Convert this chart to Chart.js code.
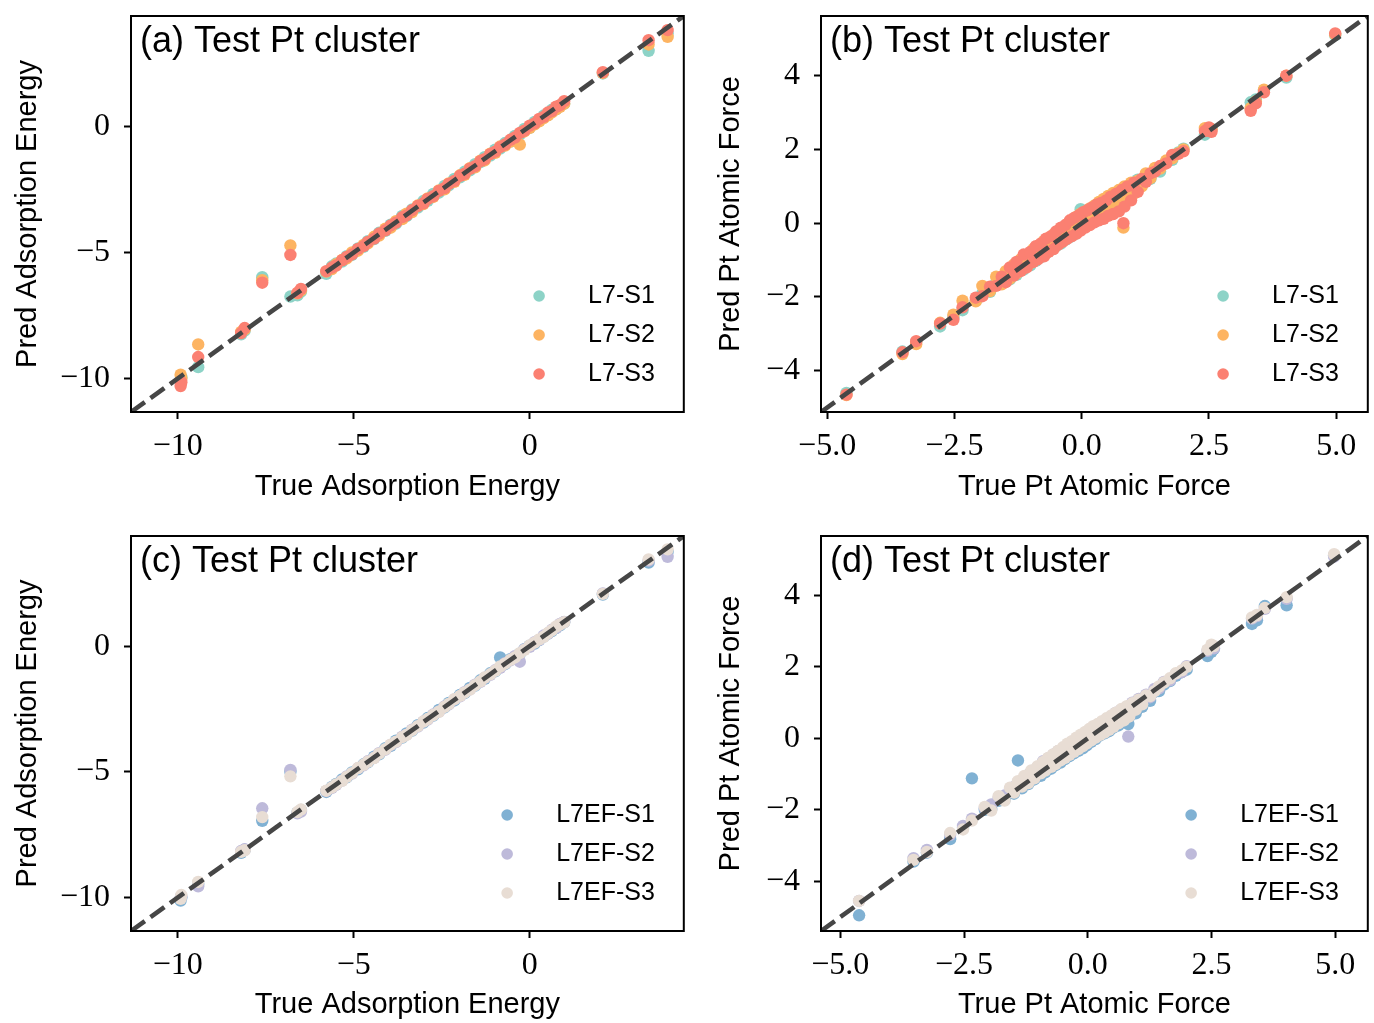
<!DOCTYPE html>
<html>
<head>
<meta charset="utf-8">
<script src="https://cdn.jsdelivr.net/npm/chart.js@4.4.0/dist/chart.umd.min.js"></script>
<style>
  html, body { margin: 0; padding: 0; background: #fff; }
  #wrap { position: relative; width: 1374px; height: 1023px; overflow: hidden; }
  #wrap canvas { position: absolute; }
</style>
</head>
<body>
<div id="wrap">
  <canvas id="panelA"></canvas>
  <canvas id="panelB"></canvas>
  <canvas id="panelC"></canvas>
  <canvas id="panelD"></canvas>
</div>
<script>
// ---- data ----
const energyTicks = [-10, -5, 0];
const forceXTicks = [-5, -2.5, 0, 2.5, 5];
const forceYTicks = [-4, -2, 0, 2, 4];
const energyRange = [-11.33, 4.38];
const forceRangeTop = [-5.12, 5.62];
const forceRangeBottom = [-5.39, 5.66];

const namesL7 = ['L7-S1', 'L7-S2', 'L7-S3'];
const namesL7EF = ['L7EF-S1', 'L7EF-S2', 'L7EF-S3'];

const energyTrue = [
  -9.92, -9.9, -9.42, -8.2, -8.1, -7.6, -6.8, -6.6, -6.5, -5.78,
  -5.62, -5.5, -5.33, -5.2, -5.05, -4.88, -4.72, -4.6, -4.42, -4.28,
  -4.1, -3.95, -3.8, -3.62, -3.5, -3.34, -3.18, -3.02, -2.9, -2.74,
  -2.58, -2.42, -2.3, -2.14, -1.98, -1.85, -1.7, -1.55, -1.4, -1.28,
  -1.12, -0.98, -0.84, -0.7, -0.55, -0.42, -0.28, -0.15, 0.0, 0.14,
  0.27, 0.4, 0.52, 0.63, 0.75, 0.86, 0.98, 2.08, 3.38, 3.92,
];
const energyL7S1 = [
  -10.05, -9.95, -9.55, -8.25, -8.1, -5.98, -6.75, -6.7, -6.55, -5.85,
  -5.55, -5.44, -5.36, -5.15, -5.1, -4.84, -4.78, -4.55, -4.47, -4.22,
  -4.14, -3.9, -3.86, -3.55, -3.56, -3.29, -3.22, -2.96, -2.95, -2.68,
  -2.63, -2.36, -2.34, -2.08, -2.02, -1.8, -1.74, -1.5, -1.42, -1.22,
  -1.16, -0.92, -0.88, -0.66, -0.6, -0.38, -0.33, -0.1, -0.06, 0.18,
  0.22, 0.43, 0.45, 0.66, 0.68, 0.83, 0.9, 2.1, 3.0, 3.7,
];
const energyL7S2 = [
  -9.85, -10.0, -8.65, -8.15, -8.05, -6.1, -4.72, -6.62, -6.5, -5.76,
  -5.66, -5.47, -5.3, -5.24, -5.0, -4.93, -4.7, -4.64, -4.38, -4.33,
  -4.06, -4.02, -3.76, -3.68, -3.46, -3.4, -3.14, -3.08, -2.86, -2.8,
  -2.54, -2.5, -2.26, -2.2, -1.94, -1.92, -1.66, -1.62, -1.36, -1.35,
  -1.08, -1.05, -0.8, -0.76, -0.6, -0.47, -0.72, -0.2, -0.06, 0.08,
  0.2, 0.33, 0.44, 0.56, 0.68, 0.78, 0.9, 2.12, 3.25, 3.55,
];
const energyL7S3 = [
  -10.3, -10.15, -9.15, -8.2, -8.0, -6.2, -5.1, -6.6, -6.45, -5.74,
  -5.6, -5.52, -5.31, -5.18, -5.08, -4.86, -4.75, -4.58, -4.45, -4.25,
  -4.12, -3.93, -3.82, -3.6, -3.53, -3.32, -3.16, -3.05, -2.88, -2.77,
  -2.56, -2.45, -2.28, -2.16, -1.96, -1.88, -1.68, -1.58, -1.38, -1.3,
  -1.1, -1.0, -0.82, -0.72, -0.53, -0.44, -0.26, -0.17, 0.03, 0.12,
  0.3, 0.38, 0.55, 0.61, 0.78, 0.84, 1.0, 2.15, 3.42, 3.82,
];
const energyL7EFS1 = [
  -10.12, -10.0, -9.45, -8.22, -8.1, -6.95, -5.0, -6.62, -6.52, -5.8,
  -5.6, -5.48, -5.3, -5.22, -5.02, -4.9, -4.7, -4.62, -4.4, -4.3,
  -4.06, -3.97, -3.76, -3.64, -3.47, -3.36, -3.14, -3.04, -2.86, -2.76,
  -2.54, -2.44, -2.26, -2.16, -1.94, -1.87, -1.66, -1.57, -1.36, -1.3,
  -1.08, -1.0, -0.45, -0.72, -0.52, -0.44, -0.3, -0.12, 0.02, 0.1,
  0.24, 0.38, 0.5, 0.6, 0.72, 0.83, 0.95, 2.05, 3.32, 3.75,
];
const energyL7EFS2 = [
  -10.0, -9.95, -9.55, -8.15, -8.08, -6.45, -4.92, -6.65, -6.58, -5.76,
  -5.64, -5.52, -5.35, -5.18, -5.07, -4.86, -4.74, -4.58, -4.44, -4.26,
  -4.12, -3.93, -3.82, -3.6, -3.52, -3.32, -3.2, -3.0, -2.92, -2.72,
  -2.6, -2.4, -2.32, -2.12, -2.0, -1.83, -1.72, -1.53, -1.42, -1.26,
  -1.14, -0.96, -0.86, -0.68, -0.57, -0.4, -0.62, -0.13, -0.03, 0.16,
  0.25, 0.42, 0.5, 0.65, 0.73, 0.88, 0.96, 2.1, 3.4, 3.55,
];
const energyL7EFS3 = [
  -10.05, -9.9, -9.38, -8.18, -8.12, -6.8, -5.18, -6.6, -6.5, -5.75,
  -5.62, -5.5, -5.36, -5.2, -5.05, -4.85, -4.72, -4.6, -4.45, -4.28,
  -4.1, -3.92, -3.8, -3.62, -3.53, -3.34, -3.18, -3.0, -2.9, -2.74,
  -2.61, -2.42, -2.3, -2.11, -1.98, -1.85, -1.73, -1.55, -1.4, -1.25,
  -1.12, -0.98, -0.81, -0.7, -0.55, -0.45, -0.28, -0.15, 0.03, 0.14,
  0.27, 0.37, 0.52, 0.63, 0.78, 0.86, 0.95, 2.08, 3.45, 3.85,
];

const forceTrue = [
  -4.62, -3.52, -3.25, -2.78, -2.52, -2.34, -2.08, -1.95, -1.8, -1.68,
  -1.57, -1.49, -1.41, -1.33, -1.28, -1.2, -1.14, -1.08, -1.01, -0.95,
  -0.9, -0.86, -0.8, -0.74, -0.7, -0.65, -0.6, -0.55, -0.5, -0.46,
  -0.41, -0.37, -0.32, -0.28, -0.23, -0.19, -0.14, -0.1, -0.05, -0.02,
  0.03, 0.07, 0.11, 0.16, 0.2, 0.25, 0.29, 0.34, 0.38, 0.43,
  0.48, 0.52, 0.57, 0.62, 0.68, 0.73, 0.79, 0.84, 0.9, 0.97,
  1.03, 1.1, 1.18, 1.26, 1.35, 1.44, 1.54, 1.66, 1.78, 1.9,
  2.0, 2.42, 2.5, 2.55, 3.32, 3.42, 3.58, 4.02, 4.98, 0.82,
];
const forceL7S1 = [
  -4.6, -3.48, -3.22, -2.8, -2.55, -2.36, -2.1, -1.9, -1.86, -1.62,
  -1.62, -1.4, -1.52, -1.22, -1.4, -1.08, -1.26, -0.95, -1.14, -0.82,
  -1.02, -0.72, -0.92, -0.6, -0.82, -0.5, -0.72, -0.4, -0.62, -0.3,
  -0.55, -0.2, -0.45, -0.1, -0.38, 0.02, -0.3, 0.12, -0.2, 0.38,
  -0.1, 0.25, 0.0, 0.32, 0.08, 0.42, 0.18, 0.5, 0.26, 0.6,
  0.34, 0.68, 0.42, 0.76, 0.52, 0.85, 0.62, 0.95, 0.72, 1.05,
  0.86, 1.18, 1.02, 1.3, 1.2, 1.46, 1.4, 1.68, 1.72, 1.92,
  2.02, 2.4, 2.48, 2.56, 3.28, 3.36, 3.6, 3.95, 5.1, 0.7,
];
const forceL7S2 = [
  -4.66, -3.55, -3.28, -2.7, -2.48, -2.1, -2.12, -1.7, -1.84, -1.45,
  -1.66, -1.3, -1.5, -1.12, -1.36, -0.98, -1.22, -0.88, -1.08, -0.7,
  -0.98, -0.62, -0.9, -0.48, -0.78, -0.4, -0.68, -0.3, -0.58, -0.2,
  -0.52, -0.12, -0.42, -0.02, -0.34, 0.08, -0.25, 0.18, -0.15, 0.26,
  -0.08, 0.32, 0.0, 0.4, 0.1, 0.48, 0.15, 0.58, 0.22, 0.66,
  0.3, 0.74, 0.38, 0.82, 0.48, 0.9, 0.52, 1.0, 0.68, 1.1,
  0.8, 1.15, 1.0, 1.35, 1.22, 1.5, 1.48, 1.7, 1.76, 1.9,
  2.0, 2.58, 2.52, 2.55, 3.12, 3.3, 3.62, 4.0, 5.12, -0.12,
];
const forceL7S3 = [
  -4.65, -3.5, -3.2, -2.72, -2.62, -2.28, -2.02, -1.98, -1.72, -1.7,
  -1.45, -1.6, -1.2, -1.42, -1.05, -1.3, -0.85, -1.2, -0.78, -1.05,
  -0.62, -0.98, -0.55, -0.9, -0.42, -0.78, -0.35, -0.7, -0.22, -0.58,
  -0.12, -0.5, -0.05, -0.42, 0.08, -0.35, 0.15, -0.28, 0.22, -0.2,
  0.3, -0.12, 0.35, -0.05, 0.42, 0.02, 0.5, 0.08, 0.55, 0.12,
  0.62, 0.2, 0.72, 0.25, 0.8, 0.32, 0.9, 0.45, 1.0, 0.62,
  1.1, 0.85, 1.2, 1.12, 1.35, 1.4, 1.55, 1.62, 1.85, 1.88,
  1.95, 2.5, 2.6, 2.48, 3.05, 3.25, 3.55, 4.0, 5.15, 0.0,
];
const forceL7EFS1 = [
  -4.95, -3.45, -3.2, -2.82, -2.5, -1.12, -2.0, -1.98, -1.75, -1.72,
  -1.5, -1.55, -0.62, -1.4, -1.18, -1.28, -1.0, -1.15, -0.85, -1.05,
  -0.75, -0.95, -0.66, -0.85, -0.55, -0.75, -0.45, -0.68, -0.36, -0.58,
  -0.26, -0.5, -0.16, -0.42, -0.06, -0.35, 0.02, -0.28, 0.1, -0.2,
  0.18, -0.1, 0.26, -0.02, 0.32, 0.08, 0.4, 0.14, 0.48, 0.2,
  0.55, 0.3, 0.64, 0.36, 0.72, 0.46, 0.82, 0.6, 0.9, 0.7,
  1.0, 0.88, 1.1, 1.05, 1.3, 1.32, 1.5, 1.6, 1.75, 1.85,
  1.92, 2.3, 2.42, 2.5, 3.2, 3.3, 3.7, 3.72, 5.12, 0.4,
];
const forceL7EFS2 = [
  -4.55, -3.35, -3.12, -2.7, -2.45, -2.25, -1.95, -1.85, -1.66, -1.6,
  -1.42, -1.36, -1.24, -1.18, -1.1, -1.02, -0.95, -0.9, -0.8, -0.78,
  -0.64, -0.72, -0.56, -0.62, -0.46, -0.55, -0.36, -0.48, -0.28, -0.38,
  -0.2, -0.3, -0.1, -0.22, -0.02, -0.15, 0.06, -0.05, 0.14, 0.02,
  0.22, 0.1, 0.3, 0.16, 0.38, 0.22, 0.46, 0.3, 0.54, 0.36,
  0.62, 0.42, 0.72, 0.5, 0.8, 0.56, 0.88, 0.7, 1.0, 0.86,
  1.1, 1.0, 1.22, 1.15, 1.38, 1.4, 1.58, 1.62, 1.8, 1.85,
  2.02, 2.45, 2.56, 2.52, 3.35, 3.42, 3.62, 3.9, 5.08, 0.05,
];
const forceL7EFS3 = [
  -4.55, -3.4, -3.18, -2.65, -2.55, -2.3, -1.92, -2.02, -1.62, -1.74,
  -1.38, -1.52, -1.2, -1.35, -1.05, -1.25, -0.9, -1.12, -0.78, -0.98,
  -0.66, -0.9, -0.55, -0.8, -0.45, -0.72, -0.35, -0.62, -0.25, -0.55,
  -0.15, -0.46, -0.08, -0.38, 0.02, -0.3, 0.1, -0.22, 0.18, -0.14,
  0.26, -0.06, 0.34, 0.02, 0.4, 0.1, 0.48, 0.16, 0.56, 0.24,
  0.64, 0.32, 0.72, 0.42, 0.82, 0.5, 0.9, 0.62, 0.98, 0.8,
  1.08, 0.95, 1.2, 1.18, 1.32, 1.45, 1.56, 1.68, 1.82, 1.9,
  2.0, 2.48, 2.62, 2.58, 3.38, 3.45, 3.65, 3.95, 5.15, 0.6,
];

// ---- styling ----
const colorsL7 = ['#8dd3c7', '#fdb462', '#fb8072'];
const colorsL7EF = ['#80b1d3', '#bebada', '#e8ddd4'];
const sansFamily = '"Liberation Sans", Arial, sans-serif';
const serifFamily = '"Liberation Serif", "Times New Roman", serif';
const labelFont = { family: sansFamily, size: 29, lineHeight: 1.2 };
const tickFont = { family: serifFamily, size: 32 };

const minus = (s) => s.replace('-', '\u2212');
const fmtInt = (v) => minus(String(v));
const fmtOne = (v) => minus(v.toFixed(1));

// frame, in-plot title and legend
const panelDecor = {
  id: 'panelDecor',
  afterDatasetsDraw(chart, args, opts) {
    const { ctx, chartArea: a } = chart;
    ctx.save();
    ctx.strokeStyle = '#000';
    ctx.lineWidth = 2;
    ctx.strokeRect(a.left, a.top, a.right - a.left, a.bottom - a.top);

    ctx.fillStyle = '#000';
    ctx.textAlign = 'left';
    ctx.textBaseline = 'alphabetic';
    ctx.font = '36px ' + sansFamily;
    ctx.fillText(opts.title, a.left + 9, a.top + 36);

    ctx.font = '25px ' + sansFamily;
    ctx.textBaseline = 'middle';
    const w = Math.max(...opts.names.map((n) => ctx.measureText(n).width));
    const tx = a.right - 29 - w;
    opts.names.forEach((name, i) => {
      const y = a.bottom - 38 - (opts.names.length - 1 - i) * 39;
      ctx.fillStyle = opts.colors[i];
      ctx.beginPath();
      ctx.arc(tx - 49, y, 5.8, 0, Math.PI * 2);
      ctx.fill();
      ctx.fillStyle = '#000';
      ctx.fillText(name, tx, y);
    });
    ctx.restore();
  },
};

const makeAxis = (range, ticks, fmt, title, isX, size, titlePad) => ({
  type: 'linear',
  position: isX ? 'bottom' : 'left',
  min: range[0],
  max: range[1],
  border: { display: false },
  grid: { drawOnChartArea: false, drawTicks: true, tickLength: 7, tickWidth: 2, tickColor: '#000' },
  ticks: {
    color: '#000',
    font: tickFont,
    padding: isX ? 8 : 14,
    maxRotation: 0,
    minRotation: 0,
    autoSkip: false,
    callback: fmt,
  },
  afterBuildTicks: (scale) => {
    scale.ticks = ticks.map((value) => ({ value }));
  },
  afterFit: (scale) => {
    // fixed axis boxes so the plot frames land where the reference has them
    if (isX) {
      scale.height = size;
      scale.paddingLeft = 0;
      scale.paddingRight = 0;
    } else {
      scale.width = size;
      scale.paddingTop = 0;
      scale.paddingBottom = 0;
    }
  },
  title: {
    display: true,
    text: title,
    color: '#000',
    font: labelFont,
    padding: isX ? { top: 0, bottom: titlePad } : { top: titlePad, bottom: 0 },
  },
});

const buildPanel = (p) => {
  const [bx, by, bw, bh] = p.box;
  const [al, at, ar, ab] = p.area;
  const canvas = document.getElementById(p.id);
  canvas.width = bw;
  canvas.height = bh;
  canvas.style.left = bx + 'px';
  canvas.style.top = by + 'px';
  canvas.style.width = bw + 'px';
  canvas.style.height = bh + 'px';

  const half = (labelFont.size * labelFont.lineHeight) / 2;
  const scatterSets = p.preds.map((pred, i) => ({
    type: 'scatter',
    label: p.names[i],
    data: p.truth.map((x, k) => ({ x, y: pred[k] })),
    backgroundColor: p.colors[i],
    borderWidth: 0,
    pointRadius: 6.2,
    pointHoverRadius: 6.2,
    order: 3 - i,
    clip: 0,
  }));
  const identity = {
    type: 'line',
    label: 'y = x',
    data: [{ x: p.xRange[0], y: p.yRange[0] }, { x: p.xRange[1], y: p.yRange[1] }],
    borderColor: '#464646',
    borderWidth: 4.6,
    borderDash: [17, 7],
    pointRadius: 0,
    fill: false,
    order: 0,
    clip: 0,
  };

  return new Chart(canvas, {
    type: 'scatter',
    data: { datasets: [identity, ...scatterSets] },
    options: {
      responsive: false,
      animation: false,
      events: [],
      devicePixelRatio: 1,
      layout: { padding: { left: 0, top: at - by, right: bx + bw - ar, bottom: 0 } },
      plugins: {
        legend: { display: false },
        tooltip: { enabled: false },
        panelDecor: { title: p.title, names: p.names, colors: p.colors },
      },
      scales: {
        x: makeAxis(p.xRange, p.xTicks, p.xFmt, p.xTitle, true, by + bh - ab, by + bh - p.xTitleY - half),
        y: makeAxis(p.yRange, p.yTicks, p.yFmt, p.yTitle, false, al - bx, p.yTitleX - bx - half),
      },
    },
    plugins: [panelDecor],
  });
};

const panels = [
  {
    id: 'panelA', box: [0, 0, 690, 515], area: [131, 16, 687, 412], xTitleY: 487, yTitleX: 28,
    title: '(a) Test Pt cluster', truth: energyTrue, preds: [energyL7S1, energyL7S2, energyL7S3],
    names: namesL7, colors: colorsL7, xRange: energyRange, yRange: energyRange,
    xTicks: energyTicks, yTicks: energyTicks, xFmt: fmtInt, yFmt: fmtInt,
    xTitle: 'True Adsorption Energy', yTitle: 'Pred Adsorption Energy',
  },
  {
    id: 'panelB', box: [700, 0, 674, 515], area: [821, 16, 1373, 412], xTitleY: 487, yTitleX: 731,
    title: '(b) Test Pt cluster', truth: forceTrue, preds: [forceL7S1, forceL7S2, forceL7S3],
    names: namesL7, colors: colorsL7, xRange: forceRangeTop, yRange: forceRangeTop,
    xTicks: forceXTicks, yTicks: forceYTicks, xFmt: fmtOne, yFmt: fmtInt,
    xTitle: 'True Pt Atomic Force', yTitle: 'Pred Pt Atomic Force',
  },
  {
    id: 'panelC', box: [0, 515, 690, 508], area: [131, 536, 687, 931], xTitleY: 1005, yTitleX: 28,
    title: '(c) Test Pt cluster', truth: energyTrue, preds: [energyL7EFS1, energyL7EFS2, energyL7EFS3],
    names: namesL7EF, colors: colorsL7EF, xRange: energyRange, yRange: energyRange,
    xTicks: energyTicks, yTicks: energyTicks, xFmt: fmtInt, yFmt: fmtInt,
    xTitle: 'True Adsorption Energy', yTitle: 'Pred Adsorption Energy',
  },
  {
    id: 'panelD', box: [700, 515, 674, 508], area: [821, 536, 1373, 931], xTitleY: 1005, yTitleX: 731,
    title: '(d) Test Pt cluster', truth: forceTrue, preds: [forceL7EFS1, forceL7EFS2, forceL7EFS3],
    names: namesL7EF, colors: colorsL7EF, xRange: forceRangeBottom, yRange: forceRangeBottom,
    xTicks: forceXTicks, yTicks: forceYTicks, xFmt: fmtOne, yFmt: fmtInt,
    xTitle: 'True Pt Atomic Force', yTitle: 'Pred Pt Atomic Force',
  },
];

panels.forEach(buildPanel);
</script>
</body>
</html>
